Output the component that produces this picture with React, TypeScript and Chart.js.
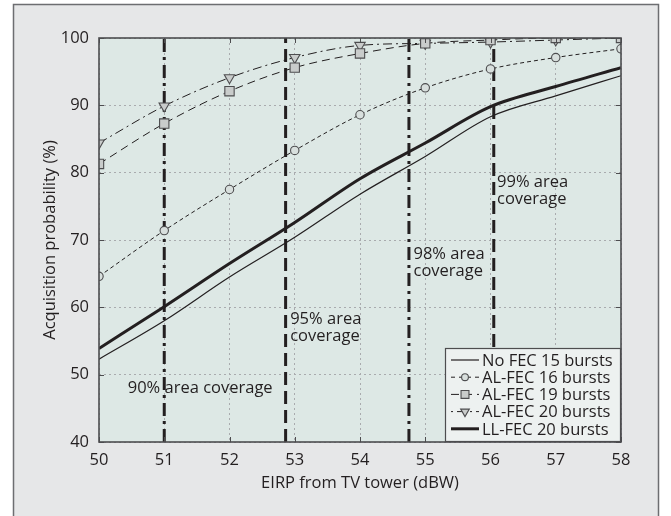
import React, { useEffect, useRef } from 'react';
import { Chart, registerables } from 'chart.js';
Chart.register(...registerables);

// ---- data ----
const eirp = [50, 51, 52, 53, 54, 55, 56, 57, 58];
const noFec15 = [52.3, 58.0, 64.5, 70.4, 76.8, 82.4, 88.3, 91.4, 94.4];
const alFec16 = [64.6, 71.4, 77.5, 83.3, 88.6, 92.6, 95.4, 97.1, 98.4];
const alFec19 = [81.3, 87.3, 92.1, 95.6, 97.7, 99.2, 99.7, 100, 100];
const alFec20 = [84.4, 89.9, 94.1, 97.1, 98.9, 99.2, 99.4, 99.7, 100];
const llFec20 = [53.9, 60.1, 66.5, 72.6, 79.1, 84.4, 89.8, 92.8, 95.6];
const seriesLabels = ['No FEC 15 bursts', 'AL-FEC 16 bursts', 'AL-FEC 19 bursts', 'AL-FEC 20 bursts', 'LL-FEC 20 bursts'];

const yMin = 40;
const yMax = 100;
const xMin = 50;
const xMax = 58;

const coverageEirp = [51.0, 52.86, 54.75, 56.05];
const coverageText = [['90% area coverage'], ['95% area', 'coverage'], ['98% area', 'coverage'], ['99% area', 'coverage']];
const coverageTextAt = [[50.44, 48.0], [52.93, 58.2], [54.82, 67.9], [56.1, 78.6]];

const FONT = '"Open Sans", "Noto Sans", sans-serif';
const INK = '#231f20';
const FS = 16.5;

function drawMarker(ctx: CanvasRenderingContext2D, style: string, x: number, y: number, r: number, fill: string, stroke: string, lw: number) {
  ctx.save();
  ctx.setLineDash([]);
  ctx.beginPath();
  if (style === 'circle') ctx.arc(x, y, r, 0, Math.PI * 2);
  else if (style === 'rect') {
    const s = r * Math.SQRT1_2;
    ctx.rect(x - s, y - s, 2 * s, 2 * s);
  } else if (style === 'triangle') {
    ctx.moveTo(x, y + r);
    ctx.lineTo(x - r * 0.866, y - r * 0.5);
    ctx.lineTo(x + r * 0.866, y - r * 0.5);
    ctx.closePath();
  }
  ctx.fillStyle = fill;
  ctx.fill();
  ctx.strokeStyle = stroke;
  ctx.lineWidth = lw;
  ctx.stroke();
  ctx.restore();
}

const framePlugin = {
  id: 'frame',
  beforeDraw(chart: any) {
    const { ctx, chartArea: a } = chart;
    ctx.save();
    ctx.fillStyle = '#ffffff';
    ctx.fillRect(0, 0, chart.width, chart.height);
    ctx.fillStyle = '#e6e7e8';
    ctx.fillRect(13, 4, 646, chart.height);
    ctx.strokeStyle = '#6d6e71';
    ctx.lineWidth = 1.5;
    ctx.strokeRect(13.5, 4.5, 645, chart.height + 10);
    ctx.fillStyle = '#dde8e5';
    ctx.fillRect(a.left, a.top, a.right - a.left, a.bottom - a.top);
    ctx.restore();
  },
  afterDatasetsDraw(chart: any) {
    const { ctx, chartArea: a, scales } = chart;
    ctx.save();
    ctx.setLineDash([]);
    ctx.strokeStyle = '#4d4d4f';
    ctx.lineWidth = 1;
    const tl = 5;
    ctx.beginPath();
    scales.x.ticks.forEach((t: any) => {
      const px = Math.round(scales.x.getPixelForValue(t.value)) + 0.5;
      ctx.moveTo(px, a.bottom); ctx.lineTo(px, a.bottom - tl);
      ctx.moveTo(px, a.top); ctx.lineTo(px, a.top + tl);
    });
    scales.y.ticks.forEach((t: any) => {
      const py = Math.round(scales.y.getPixelForValue(t.value)) + 0.5;
      ctx.moveTo(a.left, py); ctx.lineTo(a.left + tl, py);
      ctx.moveTo(a.right, py); ctx.lineTo(a.right - tl, py);
    });
    ctx.stroke();
    ctx.lineWidth = 1.6;
    ctx.strokeRect(a.left, a.top, a.right - a.left, a.bottom - a.top);
    ctx.restore();
  },
  afterDraw(chart: any) {
    const { ctx, chartArea: a, scales } = chart;
    ctx.save();
    ctx.fillStyle = INK;
    ctx.font = `${FS}px ${FONT}`;
    ctx.textBaseline = 'middle';
    ctx.textAlign = 'left';
    coverageText.forEach((lines, i) => {
      const x = scales.x.getPixelForValue(coverageTextAt[i][0]);
      const y0 = scales.y.getPixelForValue(coverageTextAt[i][1]);
      lines.forEach((t, j) => ctx.fillText(t, x, y0 + j * 17));
    });

    // legend
    const lw = 176;
    const lh = 94;
    const lx = a.right - lw;
    const ly = a.bottom - lh;
    ctx.fillStyle = '#edf1f0';
    ctx.fillRect(lx, ly, lw, lh);
    ctx.strokeStyle = '#4d4d4f';
    ctx.lineWidth = 1.2;
    ctx.strokeRect(lx + 0.5, ly + 0.5, lw - 1, lh - 1);
    const markerR = [0, 3.4, 5.6, 5];
    for (let i = 0; i < seriesLabels.length; i++) {
      const ds = chart.data.datasets[i];
      const cy = ly + 12 + i * 17.2;
      ctx.save();
      ctx.strokeStyle = ds.borderColor;
      ctx.lineWidth = ds.borderWidth;
      ctx.setLineDash(ds.legendDash || []);
      ctx.beginPath();
      ctx.moveTo(lx + 6, cy);
      ctx.lineTo(lx + 34, cy);
      ctx.stroke();
      ctx.restore();
      if (ds.pointStyle && ds.pointRadius > 0) {
        drawMarker(ctx, ds.pointStyle, lx + 20, cy, markerR[i], ds.pointBackgroundColor, ds.pointBorderColor, 1.1);
      }
      ctx.fillStyle = INK;
      ctx.font = `${FS}px ${FONT}`;
      ctx.fillText(ds.label, lx + 37, cy + 1);
    }
    ctx.restore();
  },
};

const pts = (ys: number[]) => eirp.map((x, i) => ({ x, y: ys[i] }));

export default function App() {
  const ref = useRef<HTMLCanvasElement | null>(null);
  useEffect(() => {
    if (!ref.current) return;
    const common = { borderColor: INK, cubicInterpolationMode: 'monotone' as const, fill: false };
    const datasets: any[] = [
      { ...common, label: seriesLabels[0], data: pts(noFec15), borderWidth: 1.2, pointRadius: 0, legendDash: [] },
      {
        ...common, label: seriesLabels[1], data: pts(alFec16), borderWidth: 1, borderDash: [4, 3], legendDash: [4, 4],
        pointStyle: 'circle', pointRadius: 4.2, pointBackgroundColor: '#d8dfdd', pointBorderColor: '#4d4d4f', pointBorderWidth: 1.1,
      },
      {
        ...common, label: seriesLabels[2], data: pts(alFec19), borderWidth: 1, borderDash: [8, 5], legendDash: [8, 5],
        pointStyle: 'rect', pointRadius: 6.6, pointBackgroundColor: '#c9cccb', pointBorderColor: '#4d4d4f', pointBorderWidth: 1.1,
      },
      {
        ...common, label: seriesLabels[3], data: pts(alFec20), borderWidth: 1, borderDash: [9, 4, 2, 4], legendDash: [2, 4, 9, 4],
        pointStyle: 'triangle', pointRotation: 180, pointRadius: 6, pointBackgroundColor: '#c9cccb', pointBorderColor: '#4d4d4f', pointBorderWidth: 1.1,
      },
      { ...common, label: seriesLabels[4], data: pts(llFec20), borderWidth: 3, pointRadius: 0, legendDash: [] },
    ];
    coverageEirp.forEach((c, i) => {
      datasets.push({
        label: coverageText[i].join(' '),
        data: [{ x: c, y: yMin }, { x: c, y: yMax }],
        borderColor: INK,
        borderWidth: 3,
        borderDash: i % 2 === 0 ? [13, 5, 3, 5] : [13, 6],
        pointRadius: 0,
        fill: false,
      });
    });

    const chart = new Chart(ref.current, {
      type: 'line',
      data: { datasets },
      options: {
        responsive: false,
        animation: false,
        layout: { padding: { left: 0, right: 50, top: 38, bottom: 0 } },
        plugins: { legend: { display: false }, tooltip: { enabled: false } },
        scales: {
          x: {
            type: 'linear', min: xMin, max: xMax,
            ticks: { stepSize: 1, color: INK, font: { family: FONT, size: FS }, padding: 8 },
            grid: { color: '#a9abae', lineWidth: 1, drawTicks: false },
            border: { display: false, dash: [2, 3] },
            title: { display: true, text: 'EIRP from TV tower (dBW)', color: INK, font: { family: FONT, size: FS }, padding: { top: 0, bottom: 23 } },
            afterFit(s: any) { s.height = 74; },
          },
          y: {
            type: 'linear', min: yMin, max: yMax,
            ticks: { stepSize: 10, color: INK, font: { family: FONT, size: FS }, padding: 10 },
            grid: { color: '#a9abae', lineWidth: 1, drawTicks: false },
            border: { display: false, dash: [2, 3] },
            title: { display: true, text: 'Acquisition probability (%)', color: INK, font: { family: FONT, size: FS }, padding: { top: 40, bottom: 0 } },
            afterFit(s: any) { s.width = 99; },
          },
        },
      } as any,
      plugins: [framePlugin],
    });
    return () => chart.destroy();
  }, []);
  return (
    <div style={{ position: 'absolute', left: 0, top: 0, width: 671, height: 516 }}>
      <canvas ref={ref} width={671} height={516} style={{ display: 'block' }} />
    </div>
  );
}
